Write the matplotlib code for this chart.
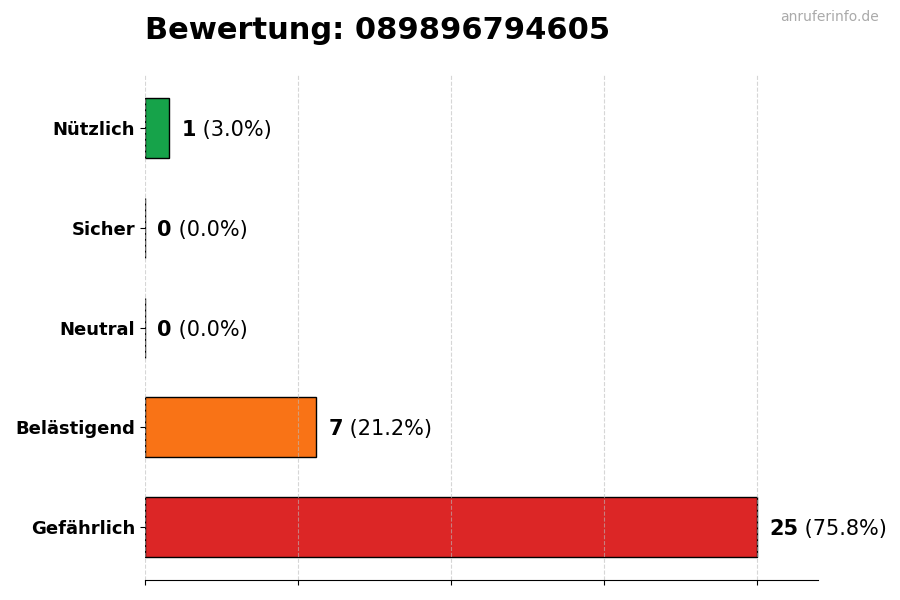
import matplotlib
matplotlib.use("Agg")
import matplotlib.pyplot as plt
import numpy as np

# Daten (von oben nach unten)
kategorien = ['Nützlich', 'Sicher', 'Neutral', 'Belästigend', 'Gefährlich']
anzahl = [1, 0, 0, 7, 25]
farben = ['#16a34a', '#3b82f6', '#9ca3af', '#f97316', '#dc2626']
nummer = '089896794605'

gesamt = sum(anzahl)
prozent = [a / gesamt * 100 for a in anzahl]

fig = plt.figure(figsize=(9, 6), dpi=100)
ax = fig.add_axes([0.161, 0.033, 0.748, 0.842])

y = np.arange(len(kategorien))[::-1]
ax.barh(y, anzahl, height=0.6, color=farben, edgecolor='black', linewidth=1)

maxwert = max(anzahl)
ax.set_xlim(0, maxwert * 1.1)
ax.set_xticks(np.linspace(0, maxwert, 5))
ax.set_xticklabels([])
ax.set_yticks(y)
ax.set_yticklabels(kategorien, fontsize=13, fontweight='bold')
ax.grid(axis='x', linestyle='--', color='#bbbbbb', alpha=0.6)

for s in ['top', 'right', 'left']:
    ax.spines[s].set_visible(False)

# Werte neben den Balken
for yi, a, p in zip(y, anzahl, prozent):
    t = ax.text(a + maxwert * 0.02, yi, str(a), fontsize=15, fontweight='bold',
                va='center_baseline', ha='left')
    ax.annotate(f' ({p:.1f}%)', xy=(1, 0), xycoords=t, fontsize=15,
                va='bottom', ha='left')

fig.text(0.161, 0.935, f'Bewertung: {nummer}', fontsize=22, fontweight='bold',
         ha='left', va='baseline')
fig.text(0.976, 0.972, 'anruferinfo.de', fontsize=10, color='#aaaaaa',
         ha='right', va='center')

fig.savefig('out.png', dpi=100)
